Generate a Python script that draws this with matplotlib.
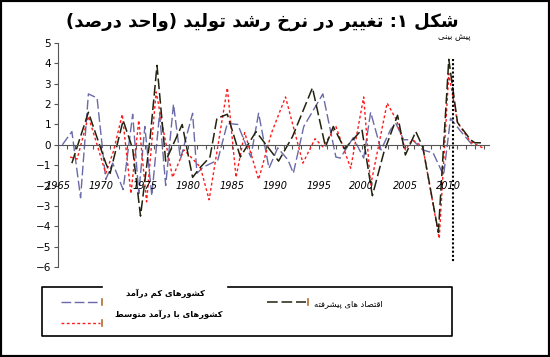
import matplotlib
matplotlib.use("Agg")
import matplotlib.pyplot as plt
from matplotlib.lines import Line2D
from matplotlib.patches import Rectangle

# data (year, growth change in %)
adv_years = [1966.6, 1968.5, 1970.5, 1971.0, 1972.5, 1973.6, 1974.5, 1975.6, 1976.4, 1977.4,
             1979.3, 1980.5, 1981.4, 1982.5, 1983.3, 1984.5, 1986.0, 1987.8, 1990.4, 1992.0,
             1994.3, 1995.8, 1996.7, 1998.0, 2000.0, 2001.2, 2002.5, 2004.1, 2005.0, 2006.2,
             2007.0, 2008.8, 2010.0, 2011.0, 2012.5, 2013.0, 2014.0]
adv_vals = [-0.9, 1.6, -0.9, -1.4, 1.2, -0.2, -3.5, 0.3, 3.9, -0.8,
            1.0, -1.6, -1.1, -0.6, 1.3, 1.5, -0.6, 0.65, -0.8, 0.4,
            2.8, -0.1, 0.9, -0.2, 0.75, -2.5, -0.4, 1.45, -0.5, 0.65,
            -0.1, -4.3, 4.2, 1.1, 0.25, 0.1, 0.1]

mid_years = [1966.4, 1967.2, 1968.5, 1970.5, 1971.4, 1972.4, 1973.4, 1974.3, 1975.2, 1976.3,
             1977.0, 1978.2, 1979.5, 1980.3, 1981.4, 1982.4, 1984.5, 1985.5, 1986.5, 1988.1,
             1989.6, 1991.2, 1993.2, 1994.6, 1995.5, 1997.0, 1998.7, 2000.2, 2001.0, 2002.9,
             2004.0, 2005.0, 2005.8, 2007.0, 2008.9, 2010.0, 2011.0, 2012.5, 2013.9]
mid_vals = [-0.6, -0.7, 1.4, -1.4, -0.3, 1.5, -2.4, 1.2, -2.8, 2.6,
            1.0, -1.6, -0.25, -0.6, -1.1, -2.7, 2.8, -1.6, 0.6, -1.7,
            0.6, 2.35, -0.9, 0.3, -0.1, 0.9, -1.15, 2.35, -2.0, 2.05,
            1.2, -0.25, 0.25, -0.1, -4.6, 3.5, 1.1, 0.15, -0.15]

low_years = [1965.5, 1966.6, 1967.6, 1968.5, 1969.5, 1970.5, 1971.3, 1972.5, 1973.6, 1974.3,
             1975.0, 1975.8, 1976.7, 1977.4, 1978.3, 1979.1, 1980.5, 1981.0, 1981.7, 1983.4,
             1984.5, 1985.7, 1987.2, 1988.1, 1989.3, 1990.3, 1991.5, 1992.1, 1993.3, 1995.5,
             1997.0, 1997.5, 1999.0, 2000.2, 2001.0, 2002.2, 2003.3, 2003.9, 2004.8, 2005.8,
             2007.0, 2008.2, 2009.4, 2010.2, 2011.4, 2012.9]
low_vals = [0.0, 0.65, -2.6, 2.5, 2.3, -1.7, -0.9, -2.2, 1.5, -2.4,
            0.9, -2.5, 1.55, -2.0, 2.0, -0.7, 1.55, -1.4, -1.1, -0.75,
            1.05, 1.0, -0.6, 1.55, -1.15, -0.15, -0.75, -1.4, 0.9, 2.5,
            -0.6, -0.65, 0.35, -0.65, 1.6, -0.25, 0.75, 1.05, 0.25, 0.25,
            -0.25, -0.4, -1.5, 1.3, 0.65, -0.1]

forecast_year = 2010.5
forecast_span = [4.2, -5.8]

year_labels = [1965, 1970, 1975, 1980, 1985, 1990, 1995, 2000, 2005, 2010]
y_ticks = list(range(-6, 6))

title = "شکل ۱: تغییر در نرخ رشد تولید (واحد درصد)"
forecast_txt = "پیش بینی"
name_low = "کشورهای کم درآمد"
name_mid = "کشورهای با درآمد متوسط"
name_adv = "اقتصاد های پیشرفته"

# --- tiny arabic/persian shaper (no arabic_reshaper available) ---
FORMS = {
    'ا': ('\uFE8D', '\uFE8E', None, None),
    'آ': ('\uFE81', '\uFE82', None, None),
    'ب': ('\uFE8F', '\uFE90', '\uFE91', '\uFE92'),
    'ت': ('\uFE95', '\uFE96', '\uFE97', '\uFE98'),
    'ح': ('\uFEA1', '\uFEA2', '\uFEA3', '\uFEA4'),
    'خ': ('\uFEA5', '\uFEA6', '\uFEA7', '\uFEA8'),
    'د': ('\uFEA9', '\uFEAA', None, None),
    'ر': ('\uFEAD', '\uFEAE', None, None),
    'س': ('\uFEB1', '\uFEB2', '\uFEB3', '\uFEB4'),
    'ش': ('\uFEB5', '\uFEB6', '\uFEB7', '\uFEB8'),
    'ص': ('\uFEB9', '\uFEBA', '\uFEBB', '\uFEBC'),
    'ط': ('\uFEC1', '\uFEC2', '\uFEC3', '\uFEC4'),
    'غ': ('\uFECD', '\uFECE', '\uFECF', '\uFED0'),
    'ف': ('\uFED1', '\uFED2', '\uFED3', '\uFED4'),
    'ق': ('\uFED5', '\uFED6', '\uFED7', '\uFED8'),
    'ل': ('\uFEDD', '\uFEDE', '\uFEDF', '\uFEE0'),
    'م': ('\uFEE1', '\uFEE2', '\uFEE3', '\uFEE4'),
    'ن': ('\uFEE5', '\uFEE6', '\uFEE7', '\uFEE8'),
    'ه': ('\uFEE9', '\uFEEA', '\uFEEB', '\uFEEC'),
    'و': ('\uFEED', '\uFEEE', None, None),
    'پ': ('\uFB56', '\uFB57', '\uFB58', '\uFB59'),
    'ک': ('\uFB8E', '\uFB8F', '\uFB90', '\uFB91'),
    'ی': ('\uFBFC', '\uFBFD', '\uFBFE', '\uFBFF'),
}


def dual(c):
    return c in FORMS and FORMS[c][2] is not None


def shape(s):
    out = []
    for i, c in enumerate(s):
        if c not in FORMS:
            out.append(c)
            continue
        prev_j = i > 0 and dual(s[i - 1])
        next_j = dual(c) and i + 1 < len(s) and s[i + 1] in FORMS
        iso, fin, ini, med = FORMS[c]
        if prev_j and next_j:
            out.append(med)
        elif prev_j:
            out.append(fin)
        elif next_j:
            out.append(ini)
        else:
            out.append(iso)
    vis = ''.join(reversed(out))
    return vis.translate(str.maketrans('()', ')('))


W, H = 550, 357
fig = plt.figure(figsize=(W / 100, H / 100), dpi=100)
ax = fig.add_axes([58 / W, 1 - 267 / H, 462 / W, 224 / H])

ax.plot(low_years, low_vals, color='#6a6aa8', lw=1.0, dashes=(7, 2.5))
ax.plot(mid_years, mid_vals, color='#ff1a1a', lw=1.0, dashes=(2, 1.8))
ax.plot(adv_years, adv_vals, color='#22220f', lw=1.1, dashes=(7, 2.5))
ax.plot([forecast_year, forecast_year], forecast_span, color='black', lw=1.5, dashes=(1, 1))

ax.set_xlim(1965, 2018.2)
ax.set_ylim(-6, 5)
for side in ['top', 'right']:
    ax.spines[side].set_visible(False)
ax.spines['bottom'].set_position(('data', 0))
ax.spines['bottom'].set_bounds(1965, 2014.6)
ax.spines['bottom'].set_color('#555555')
ax.spines['left'].set_color('#555555')
ax.set_xticks(list(range(1965, 2015)))
ax.set_xticklabels([])
ax.tick_params(axis='x', length=3, color='#555555', direction='out')
ax.set_yticks(y_ticks)
ax.tick_params(axis='y', length=3, color='#555555', labelsize=7.5, pad=2)
for yr in year_labels:
    ax.text(yr, -2, str(yr), ha='center', va='center', fontsize=7, style='italic')

ax.text(forecast_year + 0.1, 5.1, shape(forecast_txt), ha='center', va='bottom', fontsize=6)

fig.text(262 / W, 1 - 22 / H, shape(title), ha='center', va='center',
         fontsize=13, fontweight='bold')


def fx(p):
    return p / W


def fy(p):
    return 1 - p / H


# legend frame with a gap in the top edge
fig.add_artist(Line2D([fx(102), fx(42), fx(42), fx(452), fx(452), fx(228)],
                      [fy(287), fy(287), fy(336), fy(336), fy(287), fy(287)],
                      color='black', lw=1.2))
fig.add_artist(Line2D([fx(61), fx(100)], [fy(302), fy(302)], color='#6a6aa8', lw=1.0, dashes=(7, 2.5)))
fig.add_artist(Line2D([fx(61), fx(100)], [fy(323), fy(323)], color='#ff1a1a', lw=1.0, dashes=(2, 1.8)))
fig.add_artist(Line2D([fx(267), fx(306)], [fy(302), fy(302)], color='#22220f', lw=1.1, dashes=(7, 2.5)))
for px, py in [(102, 302), (102, 323), (308, 302)]:
    fig.add_artist(Line2D([fx(px), fx(px)], [fy(py - 3), fy(py + 3)], color='#b07030', lw=1.2))
fig.text(fx(165), fy(293), shape(name_low), ha='center', va='center', fontsize=6, fontweight='bold')
fig.text(fx(169), fy(314), shape(name_mid), ha='center', va='center', fontsize=6, fontweight='bold')
fig.text(fx(348), fy(304), shape(name_adv), ha='center', va='center', fontsize=6)

fig.add_artist(Rectangle((0, 0), 1, 1, transform=fig.transFigure, fill=False, lw=3, ec='black'))

fig.savefig('out.png', dpi=100)
